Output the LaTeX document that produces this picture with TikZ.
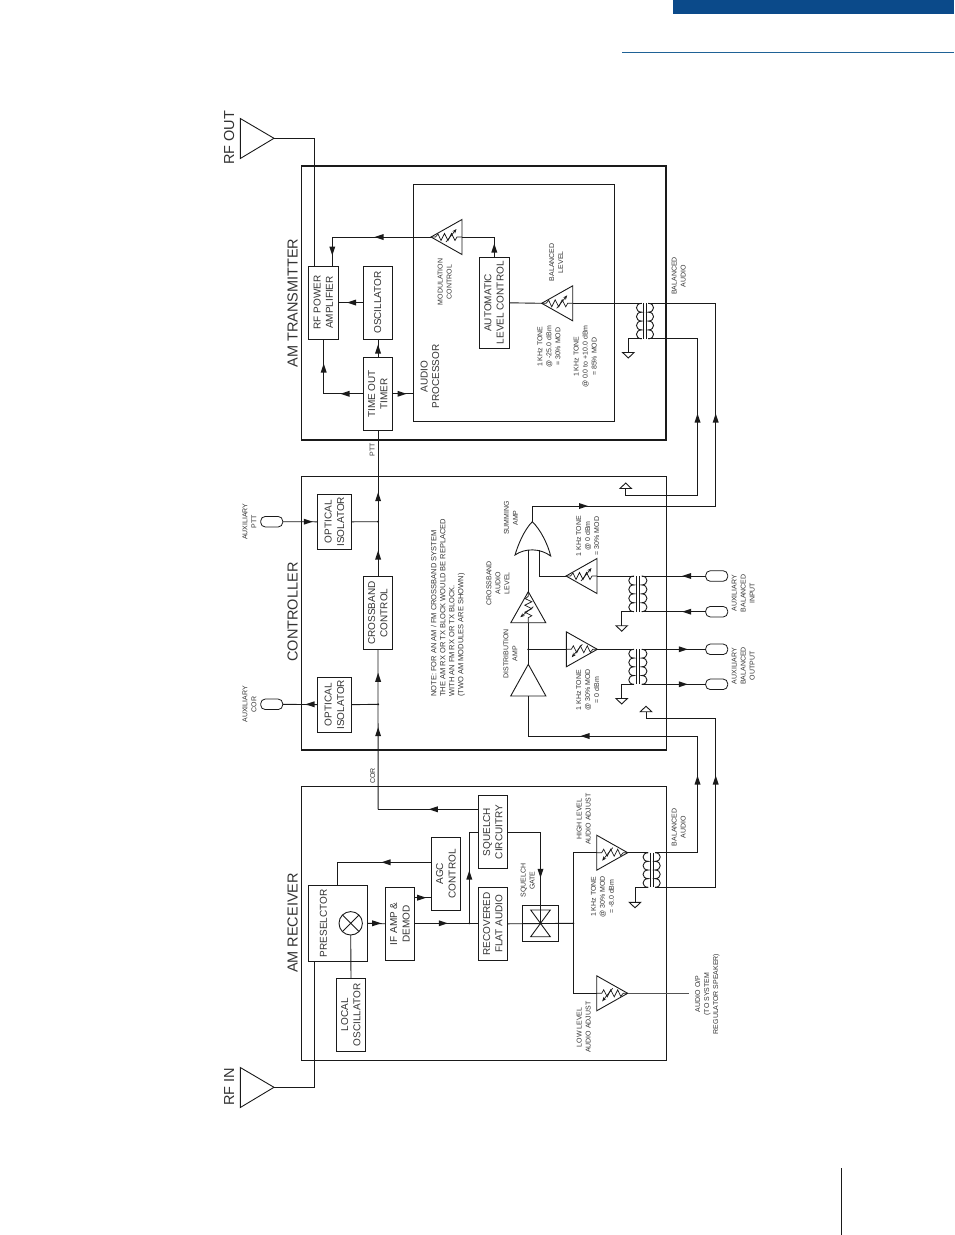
\documentclass[tikz,border=0pt]{standalone}
\usepackage{fontspec}
\setmainfont{Liberation Sans}
\usetikzlibrary{arrows.meta,calc}
\definecolor{barblue}{HTML}{0B4A8A}
\definecolor{rulecol}{HTML}{1F6296}
\definecolor{ink}{HTML}{1A1A1A}
\definecolor{txt}{HTML}{333333}
\newcommand{\rt}[1]{\rotatebox{90}{\begin{tabular}{@{}c@{}}#1\end{tabular}}}
\newcommand{\rtl}[1]{\rotatebox{90}{\begin{tabular}{@{}l@{}}#1\end{tabular}}}
% block: name x1 y1 x2 y2 text
\newcommand{\blk}[6]{\node[blockbox,minimum width={(#4-#2)*1pt},minimum height={(#5-#3)*1pt}] (#1) at ({(#2+#4)/2},{(#3+#5)/2}) {\hspace{1.4pt}\rt{#6}};}
\newcommand{\lab}[4]{\node[lbl] (#1) at (#2,#3) {\rt{#4}};}
\newcommand{\head}[4]{\node[headlbl] (#1) at (#2,#3) {\rt{#4}};}
% arrowhead: x y direction
\newcommand{\arr}[3]{\begin{scope}[shift={(#1,#2)},rotate=#3]\fill[ink] (4.5,0)--(-4.5,3)--(-4.5,-3)--cycle;\end{scope}}
\newcommand{\dotj}[1]{\fill[ink] (#1) circle (1.1);}
% amp with pot: apex x y rot mirror
\newcommand{\amp}[5]{\coordinate (#1) at (#2,#3);
 \begin{scope}[shift={(#2,#3)},rotate=#4,yscale=#5]
 \coordinate (#1b) at (-31,0);
 \draw[wire,line join=miter] (0,0)--(-31,-17.5)--(-31,17.5)--cycle;
 \draw[wire,line width=.7pt] (-31,0)--(-26,0)--(-24,-3.5)--(-20.5,3.5)--(-17,-3.5)--(-13.5,3.5)--(-10,-3.5)--(-7,3)--(-4.5,0)--(0,0);
 \draw[line width=.7pt,ink,-{Stealth[length=4.5pt,width=3.5pt]}] (-15,-5)--(-25.5,8);
 \end{scope}}
% transformer: y1 y2 leftcoil inner x, core1, core2, rightcoil inner x
\newcommand{\xfmr}[6]{\coordinate (#1tl) at (#4,#2);\coordinate (#1bl) at (#4,#3);
 \coordinate (#1tr) at (#6,#2);\coordinate (#1br) at (#6,#3);
 \draw[wire] (#4,#2)
  \foreach \k in {0,1,2,3}{ .. controls ({#4-7},{#2+\k*(#3-#2)/4}) and ({#4-7},{#2+(\k+1)*(#3-#2)/4}) .. (#4,{#2+(\k+1)*(#3-#2)/4}) };
 \draw[wire] (#6,#2)
  \foreach \k in {0,1,2,3}{ .. controls ({#6+7},{#2+\k*(#3-#2)/4}) and ({#6+7},{#2+(\k+1)*(#3-#2)/4}) .. (#6,{#2+(\k+1)*(#3-#2)/4}) };
 \draw[wire] ({(#4+#6)/2-1.7},#2)--({(#4+#6)/2-1.7},#3) ({(#4+#6)/2+1.7},#2)--({(#4+#6)/2+1.7},#3);}
% ground: tip x y, dir (1 = tip down, -1 = tip up)
\newcommand{\gnd}[4]{\coordinate (#1) at (#2,#3);\draw[wire,line join=miter] (#2,#3) ++(-5.7,0) -- ++(11.4,0) -- (#2,{#3+#4*5.5}) -- cycle;}
\begin{document}
\begin{tikzpicture}[x=1pt,y=-1pt,
 wire/.style={draw=ink,line width=.9pt},
 blockbox/.style={draw=ink,line width=.9pt,inner sep=0pt,outer sep=0pt,font=\fontsize{10}{12.3}\selectfont,text=txt},
 lbl/.style={inner sep=0pt,outer sep=0pt,xshift=.6pt,font=\fontsize{7}{9}\selectfont,text=txt},
 notelbl/.style={inner sep=0pt,outer sep=0pt,xshift=.6pt,font=\fontsize{7.5}{9}\selectfont,text=txt},
 headlbl/.style={inner sep=0pt,outer sep=0pt,xshift=2pt,font=\fontsize{14.5}{16}\selectfont,text=txt},
 plab/.style={inner sep=0pt,outer sep=0pt,xshift=1pt,font=\fontsize{10}{11.6}\selectfont,text=txt},
 port/.style={draw=ink,line width=.8pt,rounded corners=4.5pt,minimum width=22pt,minimum height=10.5pt,inner sep=0pt,outer sep=0pt},
 hub/.style={draw=ink,line width=.9pt,inner sep=0pt,outer sep=0pt},
]
\useasboundingbox (0,0) rectangle (954,1235);
% page furniture
\fill[barblue] (673,0) rectangle (954,14);
\draw[rulecol,line width=1pt] (622,52.5)--(954,52.5);
\draw[ink,line width=.9pt] (841.5,1168)--(841.5,1235);

% module frames
\draw[ink,line width=1pt] (301.7,166)--(301.7,440);
\draw[ink,line width=2pt] (301,166)--(666.5,166);
\draw[ink,line width=2pt] (301,440)--(666.5,440);
\draw[ink,line width=1.4pt] (666,165)--(666,441);
\draw[ink,line width=1pt] (301.7,476.5) rectangle (666,750);
\draw[ink,line width=2pt] (301,750)--(666.8,750);
\draw[ink,line width=1pt] (301.7,786.7) rectangle (666.3,1060);
% audio processor frame
\node[hub,minimum width=200.7pt,minimum height=237pt,line width=1pt] (proc) at (513.7,302.8) {};
\draw[ink,line width=1.5pt] (614.3,184.3)--(614.3,421.3);

% headings
\head{hrfout}{229}{138}{RF OUT}
\head{hrfin}{229}{1087}{RF IN}
\head{htx}{292.3}{303}{AM TRANSMITTER}
\head{hctl}{292.3}{612}{CONTROLLER}
\head{hrx}{292.3}{923}{AM RECEIVER}

% antennas
\coordinate (antout) at (274,138.3);
\coordinate (antin) at (274,1087.3);
\draw[wire,line join=miter] (antout)--(240.3,118.5)--(240.3,158.5)--cycle;
\draw[wire,line join=miter] (antin)--(240.3,1067.5)--(240.3,1107.5)--cycle;

% transmitter blocks
\blk{rfamp}{308.7}{266}{338.3}{339}{RF POWER\\AMPLIFIER}
\blk{osc}{363.7}{266}{392.3}{339}{OSCILLATOR}
\blk{timer}{363.7}{357.7}{392.3}{430}{TIME OUT\\TIMER}
\blk{alc}{479.3}{257.3}{509.3}{348.3}{AUTOMATIC\\LEVEL CONTROL}
\node[plab] (lproc) at (430,376.5) {\rt{AUDIO\\PROCESSOR}};
\amp{mod}{431}{237}{180}{1}
\amp{ball}{541.7}{303.3}{180}{1}
\lab{lmod}{444.7}{282}{MODULATION\\CONTROL}
\lab{lbal}{556.2}{262.3}{BALANCED\\LEVEL}
\lab{lt1}{549}{346.7}{1 KHz TONE\\@ -25.0 dBm\\= 30\% MOD}
\lab{lt2}{585.2}{356.7}{1 KHz TONE\\@ 0.0 to +10.0 dBm\\= 85\% MOD}
\lab{lbal2}{678.8}{276}{BALANCED\\AUDIO}
\lab{lptt}{372.3}{450}{PTT}
\xfmr{tx}{303.3}{338.8}{641.7}{0}{648.3}
\gnd{gtx}{628.3}{352.5}{1}
\coordinate (txout) at (715.7,303.3);
\coordinate (txret) at (697.5,338.8);

% transmitter wiring
\draw[wire] (antout)-|(314.3,266);
\draw[wire] (osc.west)--(osc.west-|rfamp.east);
\arr{351.5}{302.5}{180}
\draw[wire] (timer.north)--(osc.south);
\arr{378}{349}{90}
\draw[wire] (timer.west)-|(323.7,339);
\arr{345}{393.8}{180}
\arr{323.7}{368}{90}
\draw[wire] (timer.east)--(timer.east-|proc.west);
\arr{402}{393.8}{0}
\draw[wire] (mod)-|(332.3,266);
\arr{379}{237}{180}
\arr{332.3}{251}{270}
\draw[wire] (modb)-|(alc.north);
\arr{494.3}{248}{90}
\draw[wire] (alc.east)--(ball);
\draw[wire] (ballb)--(txtl);
\draw[wire] (txtr)--(txout);
\draw[wire] (txbr)--(txret);
\draw[wire] (txbl)-|(gtx);
\arr{715.7}{418}{90}
\arr{697.5}{418}{90}

% controller blocks
\blk{iso1}{317.7}{494.3}{351.7}{549.3}{OPTICAL\\ISOLATOR}
\blk{cross}{363.3}{576.7}{392.7}{649.3}{CROSSBAND\\CONTROL}
\blk{iso2}{317.7}{677.3}{351.7}{732}{OPTICAL\\ISOLATOR}
\node[port,minimum width=22pt] (pptt) at (271.7,521.7) {};
\node[port,minimum width=22pt] (pcor) at (271.7,704.3) {};
\lab{lptt2}{249.5}{521.7}{AUXILIARY\\PTT}
\lab{lcor2}{249.5}{704.3}{AUXILIARY\\COR}
\node[notelbl,anchor=south] (lnote) at (447.4,696.7) {\rtl{NOTE: FOR AN AM / FM CROSSBAND SYSTEM\\THE AM RX OR TX BLOCK WOULD BE REPLACED\\WITH AN FM RX OR TX BLOCK.\\(TWO AM MODULES ARE SHOWN)}};
\coordinate (j1) at (378.1,521.7);
\coordinate (j2) at (378.1,704.3);
\coordinate (corc) at (378.1,809.3);
\draw[wire] (timer.south)--(cross.north);
\draw[wire] (cross.south)--(corc);
\draw[wire] (pptt.east)--(iso1.west);
\draw[wire] (pcor.east)--(iso2.west);
\draw[wire] (iso1.east)--(j1);
\draw[wire] (iso2.east)--(j2);
\dotj{j1}\dotj{j2}
\arr{308.3}{521.7}{0}
\arr{310}{704.3}{180}
\arr{378.1}{496.7}{90}
\arr{378.1}{555}{90}
\arr{378.1}{677.3}{90}
\arr{378.1}{731.7}{90}

% summing amp
\coordinate (sumtop) at (532.3,521.7);
\coordinate (suml) at (528.3,550);
\coordinate (sumr) at (539.3,550);
\draw[wire] (sumtop) .. controls (541,530) and (548,545) .. (550.7,556) .. controls (540,548) and (525,548) .. (515,555) .. controls (518,545) and (524,530) .. (sumtop);
\amp{xlev}{528.3}{591.7}{90}{-1}
\coordinate (dist) at (528.3,664.3);
\coordinate (distb) at (528.3,696);
\draw[wire,line join=miter] (dist)--(510.7,696)--(545.9,696)--cycle;
\coordinate (jd) at (528.3,649.3);
\amp{inamp}{566}{576}{180}{1}
\amp{outamp}{597.3}{649.3}{0}{1}
\xfmr{xi}{576}{611.7}{634}{0}{641.7}
\xfmr{xo}{649.3}{684.3}{634}{0}{641.7}
\gnd{gxi}{621.7}{625.7}{1}
\gnd{gxo}{621.7}{698.5}{1}
\node[port] (pi1) at (716.7,576) {};
\node[port] (pi2) at (716.7,611.7) {};
\node[port] (po1) at (716.7,649.3) {};
\node[port] (po2) at (716.7,684.3) {};
\gnd{gup1}{625.7}{488.5}{-1}
\gnd{gup2}{646}{711.7}{-1}
\coordinate (txretc) at (697.5,495);
\coordinate (txoutc) at (715.7,506);
\coordinate (rxa) at (697.5,736);
\coordinate (rxb) at (715.7,718.3);
\draw[wire] (txret)--(txretc)-|(gup1);
\draw[wire] (txout)--(txoutc)-|(sumtop);
\arr{583.5}{506}{0}
\draw[wire] (suml)--(xlev);
\draw[wire] (xlevb)--(dist);
\dotj{jd}
\draw[wire] (sumr)|-(inamp);
\draw[wire] (inampb)--(xitl);
\draw[wire] (xitr)--(pi1.west);
\draw[wire] (xibr)--(pi2.west);
\draw[wire] (xibl)-|(gxi);
\arr{686.7}{576}{180}
\arr{686.7}{611.7}{180}
\draw[wire] (jd)--(outampb);
\draw[wire] (outamp)--(xotl);
\draw[wire] (xotr)--(po1.west);
\draw[wire] (xobr)--(po2.west);
\draw[wire] (xobl)-|(gxo);
\arr{683.3}{649.3}{0}
\arr{683.3}{684.3}{0}
\draw[wire] (distb)|-(rxa);
\arr{585}{736}{180}
\draw[wire] (gup2)|-(rxb);
\lab{lsum}{511}{518}{SUMMING\\AMP}
\lab{lxl}{498}{583.3}{CROSSBAND\\AUDIO\\LEVEL}
\lab{ldist}{510.4}{653.7}{DISTRIBUTION\\AMP}
\lab{lt3}{587.7}{536}{1 KHz TONE\\@ 0 dBm\\= 30\% MOD}
\lab{lt4}{587.7}{690}{1 KHz TONE\\@ 30\% MOD\\= 0 dBm}
\lab{lauxi}{743.3}{593.3}{AUXILIARY\\BALANCED\\INPUT}
\lab{lauxo}{743.3}{666}{AUXILIARY\\BALANCED\\OUTPUT}

% receiver blocks
\blk{squelch}{478.3}{795.7}{507.7}{868.3}{SQUELCH\\CIRCUITRY}
\blk{agc}{431.7}{837.3}{460.7}{910.3}{AGC\\CONTROL}
\node[blockbox,minimum width=59.4pt,minimum height=76pt] (presel) at (338,923.3) {};
\node[plab,font=\fontsize{10}{12}\selectfont] (lpresel) at (323.5,923.3) {\rt{PRESELCTOR}};
\node[hub,circle,minimum size=23.4pt] (mix) at (350.7,923.3) {};
\draw[wire] (mix.north west)--(mix.south east) (mix.north east)--(mix.south west);
\blk{lo}{336.7}{978.3}{365.3}{1051.3}{LOCAL\\OSCILLATOR}
\blk{ifamp}{385.7}{887.3}{414.7}{960.3}{IF AMP \&\\DEMOD}
\blk{flat}{478.3}{887.3}{507.7}{960.3}{RECOVERED\\FLAT AUDIO}
\node[hub,minimum width=35.6pt,minimum height=36pt] (gate) at (540.5,923.3) {};
\draw[wire,line join=miter] (530.7,910)--(550.3,910)--(530.7,936.7)--(550.3,936.7)--cycle;
\coordinate (j3) at (469.3,923.3);
\coordinate (j4) at (573.3,923.3);
\coordinate (jhi) at (573.3,852.7);
\coordinate (jlo) at (573.3,993.3);
\coordinate (cora) at (478.3,809.3);
\coordinate (agca) at (431.7,862.3);
\coordinate (agcb) at (337.3,862.3);
\coordinate (agcc) at (337.3,885.3);
\coordinate (sqa) at (478.3,832.3);
\coordinate (sqb) at (507.7,832.3);
\coordinate (gatec) at (540.5,923.3);
\coordinate (ifa) at (414.7,897.7);
\coordinate (agcd) at (431.7,897.7);
\amp{hi}{627.7}{852.7}{0}{1}
\amp{low}{627.7}{993.3}{0}{1}
\xfmr{xr}{852.7}{887.3}{648.3}{0}{655}
\gnd{gxr}{635}{902.3}{1}
\coordinate (audio) at (689,993.3);
\coordinate (rfinu) at (314.3,961.3);

\draw[wire] (cora)--(corc);
\arr{433.3}{809.3}{180}
\draw[wire] (agca)--(agcb)--(agcc);
\arr{386}{862.3}{180}
\draw[wire] (presel.east)--(ifamp.west);
\arr{376.7}{923.3}{0}
\draw[wire] (ifamp.east)--(flat.west);
\arr{443.3}{923.3}{0}
\dotj{j3}
\draw[wire] (j3)|-(sqa);
\arr{469.3}{875}{90}
\draw[wire] (ifa)--(agcd);
\arr{421.7}{897.7}{0}
\draw[wire] (mix.south)--(lo.north);
\draw[wire] (antin)-|(rfinu);
\draw[wire] (sqb)-|(gatec);
\arr{540.5}{873.3}{270}
\draw[wire] (flat.east)--(j4);
\dotj{j4}
\draw[wire] (jhi)--(jlo);
\draw[wire] (hib)--(jhi);
\draw[wire] (lowb)--(jlo);
\draw[wire] (hi)--(xrtl);
\draw[wire] (xrtr)-|(rxa);
\draw[wire] (xrbr)-|(rxb);
\draw[wire] (xrbl)-|(gxr);
\draw[wire,draw=ink!75] (low)--(audio);
\arr{697.5}{780}{90}
\arr{715.7}{780}{90}
\lab{lcor}{372.7}{776}{COR}
\lab{lhigh}{583.7}{819.3}{HIGH LEVEL\\AUDIO ADJUST}
\lab{lt5}{602.5}{896.7}{1 KHz TONE\\@ 30\% MOD\\= -8.0 dBm}
\lab{lgate}{527.8}{880.7}{SQUELCH\\GATE}
\lab{llow}{583.7}{1027.3}{LOW LEVEL\\AUDIO ADJUST}
\lab{laud}{706.7}{994}{AUDIO O/P\\(TO SYSTEM\\REGULATOR SPEAKER)}
\lab{lbal3}{678.8}{827.3}{BALANCED\\AUDIO}
\end{tikzpicture}
\end{document}
